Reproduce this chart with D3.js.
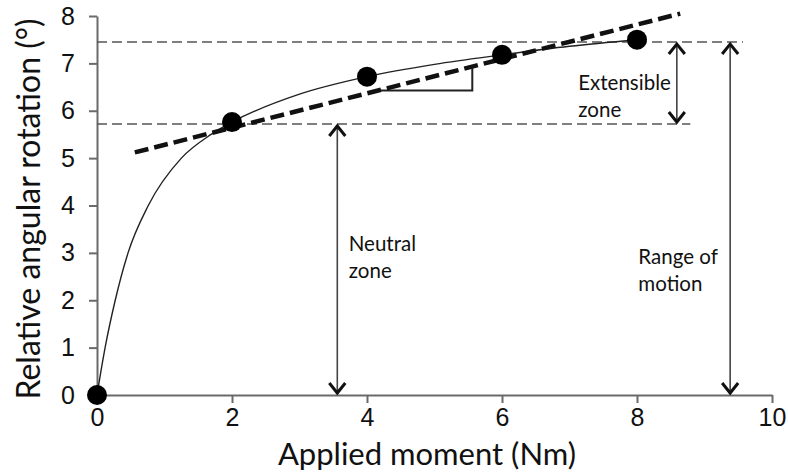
<!DOCTYPE html>
<html>
<head>
<meta charset="utf-8">
<script src="https://cdn.jsdelivr.net/npm/d3@7"></script>
<style>
  body { margin: 0; background: #fff; }
  svg { display: block; font-family: Lato, "Open Sans", sans-serif; }
  .tick text { fill: #111; }
</style>
</head>
<body>
<div id="chart"></div>
<script>
// measured points
var pointX = [0, 2, 4, 6, 8];
var pointY = [0, 5.76, 6.72, 7.18, 7.5];

// fitted curve
var curveX = [0, 0.12, 0.27, 0.46, 0.76, 1.25, 1.69, 2, 3, 4, 5, 6, 7, 8];
var curveY = [0, 1, 2, 3, 4, 5, 5.5, 5.76, 6.35, 6.72, 6.98, 7.18, 7.36, 7.5];

// thick dashed stiffness line (ends)
var slopeX = [0.56, 8.64];
var slopeY = [5.12, 8.05];
// slope triangle corner
var triangleY = 6.43, triangleX = 5.56;

// reference levels (neutral zone top, range of motion top)
var levelY = [5.72, 7.45];
var levelEnd = [8.79, 9.57];

// double arrows
var arrowX = [3.56, 8.59, 9.38];
var arrowFrom = [0, 5.72, 0];
var arrowTo = [5.72, 7.45, 7.45];

// annotation labels
var labelLines = [["Neutral", "zone"], ["Extensible", "zone"], ["Range of", "motion"]];
var labelX = [3.73, 7.13, 8.02];
var labelY = [3.04, 6.43, 2.77];

var xTicks = [0, 2, 4, 6, 8, 10];
var yTicks = [0, 1, 2, 3, 4, 5, 6, 7, 8];

var margin = {top: 16, right: 16, bottom: 77, left: 97};
var W = 788, H = 472;
var width = W - margin.left - margin.right,
    height = H - margin.top - margin.bottom;

var svg = d3.select("#chart").append("svg")
    .attr("width", W)
    .attr("height", H);
svg.append("rect").attr("width", W).attr("height", H).attr("fill", "#fff");

var g = svg.append("g")
    .attr("transform", "translate(" + margin.left + "," + margin.top + ")");

var x = d3.scaleLinear().domain([0, 10]).range([0, width]);
var y = d3.scaleLinear().domain([0, 8]).range([height, 0]);

// axes
var xAxis = d3.axisBottom(x).tickValues(xTicks).tickSize(8).tickSizeOuter(0).tickPadding(5);
var yAxis = d3.axisLeft(y).tickValues(yTicks).tickSize(8).tickSizeOuter(0).tickPadding(14);

var xg = g.append("g").attr("transform", "translate(0," + height + ")").call(xAxis);
var yg = g.append("g").call(yAxis);
[xg, yg].forEach(function(a) {
    a.select(".domain").attr("stroke", "#6a6a6a").attr("stroke-width", 2);
    a.selectAll(".tick line").attr("stroke", "#6a6a6a").attr("stroke-width", 2);
    a.selectAll(".tick text").style("font-size", "25px");
});

// axis titles
svg.append("text")
    .attr("x", 427)
    .attr("y", 465)
    .attr("text-anchor", "middle")
    .style("font-size", "31px")
    .attr("fill", "#111")
    .text("Applied moment (Nm)");
svg.append("text")
    .attr("transform", "translate(40," + 209 + ") rotate(-90)")
    .attr("text-anchor", "middle")
    .style("font-size", "32px")
    .attr("fill", "#111")
    .text("Relative angular rotation (°)");

// horizontal reference dashed lines
g.selectAll(".level")
    .data(levelY)
    .enter().append("line")
    .attr("class", "level")
    .attr("x1", x(0))
    .attr("x2", function(d, i) { return x(levelEnd[i]); })
    .attr("y1", function(d) { return y(d); })
    .attr("y2", function(d) { return y(d); })
    .attr("stroke", "#555")
    .attr("stroke-width", 1.6)
    .attr("stroke-dasharray", "10,5");

// fitted curve
var curveData = curveX.map(function(v, i) { return [v, curveY[i]]; });
var line = d3.line()
    .x(function(d) { return x(d[0]); })
    .y(function(d) { return y(d[1]); })
    .curve(d3.curveMonotoneX);
g.append("path")
    .attr("d", line(curveData))
    .attr("fill", "none")
    .attr("stroke", "#222")
    .attr("stroke-width", 1.4);

// slope triangle
var slope = (slopeY[1] - slopeY[0]) / (slopeX[1] - slopeX[0]);
var triStart = slopeX[0] + (triangleY - slopeY[0]) / slope;
var triTop = slopeY[0] + slope * (triangleX - slopeX[0]);
g.append("path")
    .attr("d", d3.line()([[x(triStart), y(triangleY)], [x(triangleX), y(triangleY)], [x(triangleX), y(triTop)]]))
    .attr("fill", "none")
    .attr("stroke", "#222")
    .attr("stroke-width", 2);

// thick dashed line
g.append("line")
    .attr("x1", x(slopeX[0])).attr("y1", y(slopeY[0]))
    .attr("x2", x(slopeX[1])).attr("y2", y(slopeY[1]))
    .attr("stroke", "#111")
    .attr("stroke-width", 4.5)
    .attr("stroke-dasharray", "14,6");

// double headed arrows
var arrows = g.append("g");
arrowX.forEach(function(ax, i) {
    var px = x(ax), top = y(arrowTo[i]), bot = y(arrowFrom[i]);
    arrows.append("line")
        .attr("x1", px).attr("x2", px)
        .attr("y1", top + 1).attr("y2", bot - 1)
        .attr("stroke", "#444")
        .attr("stroke-width", 1.6);
    arrows.append("path")
        .attr("d", "M" + (px - 8) + "," + (top + 12) + "L" + px + "," + (top + 2) + "L" + (px + 8) + "," + (top + 12))
        .attr("fill", "none").attr("stroke", "#111").attr("stroke-width", 3);
    arrows.append("path")
        .attr("d", "M" + (px - 8) + "," + (bot - 12) + "L" + px + "," + (bot - 2) + "L" + (px + 8) + "," + (bot - 12))
        .attr("fill", "none").attr("stroke", "#111").attr("stroke-width", 3);
});

// points
g.selectAll(".pt")
    .data(pointX)
    .enter().append("circle")
    .attr("class", "pt")
    .attr("cx", function(d) { return x(d); })
    .attr("cy", function(d, i) { return y(pointY[i]); })
    .attr("r", 10)
    .attr("fill", "#000");

// annotation labels
labelLines.forEach(function(lines, i) {
    var t = g.append("text")
        .attr("x", x(labelX[i]))
        .attr("y", y(labelY[i]))
        .style("font-size", "20.5px")
        .attr("fill", "#111");
    lines.forEach(function(s, j) {
        t.append("tspan")
            .attr("x", x(labelX[i]))
            .attr("dy", j === 0 ? 0 : 27)
            .text(s);
    });
});
</script>
</body>
</html>
